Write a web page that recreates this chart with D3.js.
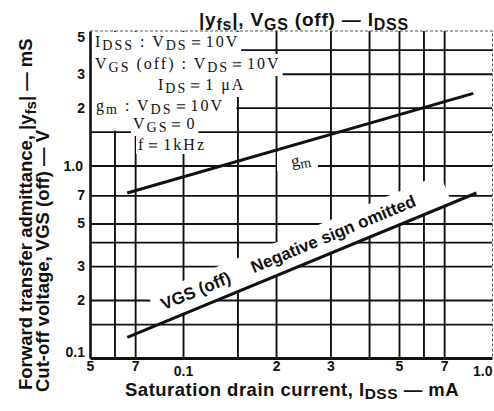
<!DOCTYPE html>
<html lang="en">
<head>
<meta charset="utf-8">
<title>|yfs|, VGS(off) - IDSS</title>
<script src="https://cdn.jsdelivr.net/npm/d3@7"></script>
<style>
  body { margin: 0; background: #fff; }
  svg text { font-family: "Liberation Sans", Arial, sans-serif; fill: #111; }
  .note text, text.note { font-family: "Liberation Serif", "Times New Roman", serif; }
</style>
</head>
<body>
<script>
// IDSS axis (mA): labelled ticks and grid lines
var xTicks = [0.05, 0.07, 0.1, 0.2, 0.3, 0.5, 0.7, 1.0];
var xTickLabels = ["5", "7", "0.1", "2", "3", "5", "7", "1.0"];
var xGrid = [0.06, 0.07, 0.1, 0.15, 0.2, 0.3, 0.4, 0.5, 0.6, 0.7];

// shared left axis (mS / V)
var yTicks = [0.1, 0.2, 0.3, 0.5, 0.7, 1.0, 2, 3, 5];
var yTickLabels = ["0.1", "2", "3", "5", "7", "1.0", "2", "3", "5"];
var yGrid = [0.15, 0.2, 0.3, 0.4, 0.5, 0.7, 1.0, 1.5, 2, 3, 4];

// curves (straight on log-log)
var gmIdss = [0.066, 0.87];
var gmYfs = [0.72, 2.37];
var offIdss = [0.066, 0.89];
var offVgs = [0.128, 0.72];

var width = 494, height = 411;
var x = d3.scaleLog().domain([0.05, 1]).range([90, 492]);
var y = d3.scaleLog().domain([0.1, 5]).range([358, 31]);

var svg = d3.select("body").append("svg")
    .attr("width", width)
    .attr("height", height);

// subscript helper, parts = [[text, isSub], ...]
function rich(sel, parts, subSize, shift) {
  var prevSub = false;
  parts.forEach(function(p) {
    var ts = sel.append("tspan").text(p[0]);
    if (p[1]) {
      ts.attr("font-size", subSize);
      if (!prevSub) ts.attr("dy", shift);
    } else if (prevSub) {
      ts.attr("dy", -shift);
    }
    prevSub = !!p[1];
  });
}

// grid
var xg = svg.append("g")
    .attr("transform", "translate(0," + y(0.1) + ")")
    .call(d3.axisBottom(x).tickValues(xGrid).tickSize(-(y(0.1) - y(5))).tickFormat(""));
var yg = svg.append("g")
    .attr("transform", "translate(" + x(0.05) + ",0)")
    .call(d3.axisLeft(y).tickValues(yGrid).tickSize(-(x(1) - x(0.05))).tickFormat(""));
[xg, yg].forEach(function(g) {
  g.select(".domain").remove();
  g.selectAll(".tick line").attr("stroke", "#111").attr("stroke-width", 1.9);
});

// dashed top / right frame
svg.append("path")
    .attr("d", "M" + x(0.05) + "," + y(5) + "H" + (x(1) + 0.5) + "V" + y(0.1))
    .attr("fill", "none")
    .attr("stroke", "#555")
    .attr("stroke-width", 1)
    .attr("stroke-dasharray", "3,2");

var maskG = svg.append("g").attr("fill", "#fff");

// conditions box in upper-left
maskG.append("rect")
    .attr("x", x(0.05) + 1.5)
    .attr("y", y(5) + 1)
    .attr("width", x(0.15) - x(0.05) - 2.5)
    .attr("height", y(1.5) - y(5) - 2);

// band above the VGS(off) line where its labels sit
var p1 = [x(offIdss[0]), y(offVgs[0])], p2 = [x(offIdss[1]), y(offVgs[1])];
var ang = Math.atan2(p2[1] - p1[1], p2[0] - p1[0]);
var angDeg = ang * 180 / Math.PI;
function onLine(px) {
  var t = (px - p1[0]) / (p2[0] - p1[0]);
  return [px, p1[1] + t * (p2[1] - p1[1])];
}
var b0 = onLine(160);
maskG.append("rect")
    .attr("transform", "translate(" + b0 + ") rotate(" + angDeg + ")")
    .attr("x", 0)
    .attr("y", -31)
    .attr("width", (452 - 160) / Math.cos(ang))
    .attr("height", 30);

// condition notes
var noteLines = [
  {x: 95, y: 47, parts: [["I"], ["DSS", 1], [" : V"], ["DS", 1], ["＝10V"]]},
  {x: 95, y: 69, parts: [["V"], ["GS", 1], [" (off) : V"], ["DS", 1], ["＝10V"]]},
  {x: 158, y: 90, parts: [["I"], ["DS", 1], ["＝1 μA"]]},
  {x: 96, y: 111, parts: [["g"], ["m", 1], [" : V"], ["DS", 1], ["＝10V"]]},
  {x: 133, y: 129, parts: [["V"], ["GS", 1], ["＝0"]]},
  {x: 138, y: 150, parts: [["f＝1kHz"]]}
];
var noteG = svg.append("g").attr("class", "note");
noteLines.forEach(function(l) {
  var t = noteG.append("text")
      .attr("x", l.x)
      .attr("y", l.y)
      .attr("font-size", 16)
      .attr("letter-spacing", 2);
  rich(t, l.parts, 14, 3);
  var bb = t.node().getBBox();
  maskG.append("rect")
      .attr("x", bb.x - 2).attr("y", bb.y - 1)
      .attr("width", bb.width + 4).attr("height", bb.height + 2);
});

// gm label
var gmLab = svg.append("text")
    .attr("class", "note")
    .attr("transform", "translate(292,167) rotate(-10)")
    .attr("font-size", 17);
rich(gmLab, [["g"], ["m", 1]], 14, 3);
maskG.append("rect")
    .attr("x", 277).attr("y", 152)
    .attr("width", 41).attr("height", 19);

// axes
var yAxis = svg.append("g")
    .attr("transform", "translate(" + x(0.05) + ",0)")
    .call(d3.axisLeft(y).tickValues(yTicks).tickSize(0).tickPadding(5)
      .tickFormat(function(d, i) { return yTickLabels[i]; }));
yAxis.select(".domain").attr("stroke", "#111").attr("stroke-width", 2.6);
yAxis.selectAll(".tick text")
    .attr("font-size", 14)
    .attr("font-weight", "bold")
    .attr("font-family", "Liberation Sans, Arial, sans-serif")
    .attr("fill", "#111")
    .attr("dy", function(d) { return d === 5 ? "0.75em" : d === 0.1 ? "-0.1em" : "0.32em"; })
    .attr("dx", function(d) { return d === 1 ? -2 : 0; });

var xAxis = svg.append("g")
    .attr("transform", "translate(0," + y(0.1) + ")")
    .call(d3.axisBottom(x).tickValues(xTicks).tickSize(0).tickPadding(3)
      .tickFormat(function(d, i) { return xTickLabels[i]; }));
xAxis.select(".domain").attr("stroke", "#111").attr("stroke-width", 3);
xAxis.selectAll(".tick text")
    .attr("font-size", 14)
    .attr("font-weight", "bold")
    .attr("font-family", "Liberation Sans, Arial, sans-serif")
    .attr("fill", "#111")
    .attr("dy", function(d) { return (d === 0.1 || d === 1) ? "1.1em" : "0.71em"; })
    .attr("text-anchor", function(d) { return d === 1 ? "end" : "middle"; });

// curves
var line = d3.line();
svg.append("path")
    .attr("d", line(gmIdss.map(function(d, i) { return [x(d), y(gmYfs[i])]; })))
    .attr("fill", "none").attr("stroke", "#111").attr("stroke-width", 3);
svg.append("path")
    .attr("d", line(offIdss.map(function(d, i) { return [x(d), y(offVgs[i])]; })))
    .attr("fill", "none").attr("stroke", "#111").attr("stroke-width", 3);

// labels along VGS(off) line
var l1 = onLine(168);
svg.append("text")
    .attr("transform", "translate(" + l1 + ") rotate(" + angDeg + ")")
    .attr("y", -11)
    .attr("font-size", 17)
    .attr("font-weight", "bold")
    .text("VGS (off)");
var l2 = onLine(258);
svg.append("text")
    .attr("transform", "translate(" + l2 + ") rotate(" + angDeg + ")")
    .attr("y", -11)
    .attr("font-size", 17)
    .attr("font-weight", "bold")
    .text("Negative sign omitted");

// title
var title = svg.append("text")
    .attr("x", 304)
    .attr("y", 26)
    .attr("text-anchor", "middle")
    .attr("font-size", 19)
    .attr("font-weight", "bold")
    .attr("letter-spacing", 0.8);
rich(title, [["|y"], ["fs", 1], ["|, V"], ["GS", 1], [" (off) — I"], ["DSS", 1]], 16, 4);

// axis titles
var xt = svg.append("text")
    .attr("x", 125)
    .attr("y", 396)
    .attr("font-size", 18.5)
    .attr("font-weight", "bold")
    .attr("letter-spacing", 0.5);
rich(xt, [["Saturation drain current, I"], ["DSS", 1], [" — mA"]], 15.5, 3);

var yt1 = svg.append("text")
    .attr("transform", "translate(32,390) rotate(-90)")
    .attr("font-size", 18.5)
    .attr("font-weight", "bold");
rich(yt1, [["Forward transfer admittance, |y"], ["fs", 1], ["| — mS"]], 15, 4);

svg.append("text")
    .attr("transform", "translate(49,392) rotate(-90)")
    .attr("font-size", 18.5)
    .attr("font-weight", "bold")
    .text("Cut-off voltage, VGS (off) — V");
</script>
</body>
</html>
